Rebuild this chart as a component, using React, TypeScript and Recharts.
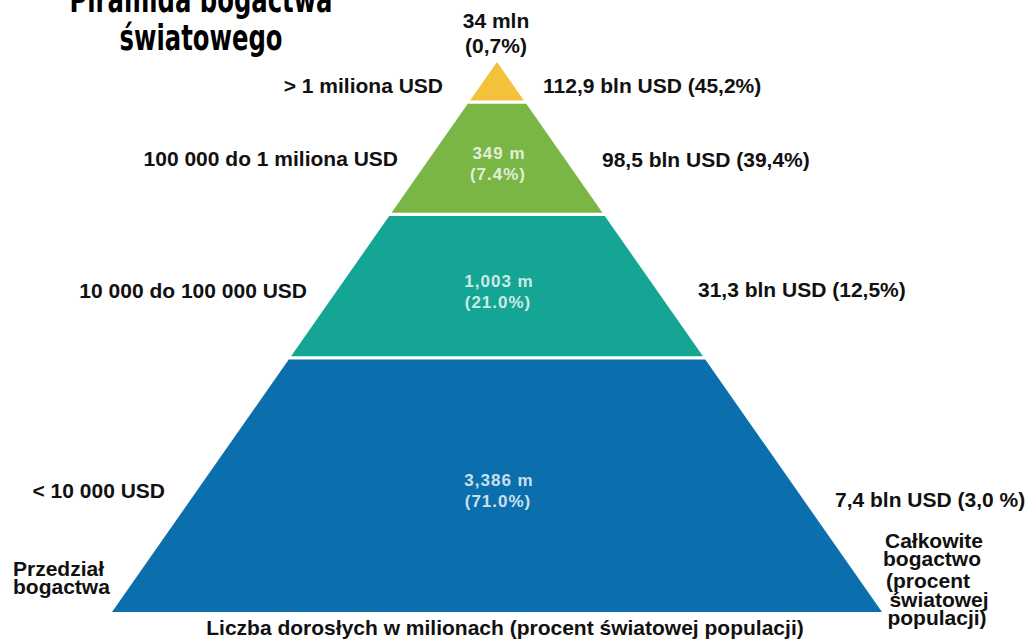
import { Area, ComposedChart, ReferenceDot, XAxis, YAxis } from "recharts";

// Wealth brackets, top of the pyramid first.
const bracketLabels = [
  "> 1 miliona USD",
  "100 000 do 1 miliona USD",
  "10 000 do 100 000 USD",
  "< 10 000 USD",
];
const adultCounts = ["34 mln", "349 m", "1,003 m", "3,386 m"];
const adultShares = ["(0,7%)", "(7.4%)", "(21.0%)", "(71.0%)"];
const wealthLabels = [
  "112,9 bln USD (45,2%)",
  "98,5 bln USD (39,4%)",
  "31,3 bln USD (12,5%)",
  "7,4 bln USD (3,0 %)",
];
// upper edge of each band, in % of the pyramid height
const bandTops = [100, 92.7, 72.3, 46.2];

const BAND_COLORS = ["#F4C23A", "#7AB646", "#14A594", "#0B6FAD"];
const GAP = 0.6; // white seam between bands, in height units
const FONT = '"Liberation Sans", Arial, sans-serif';

const bandBottoms = bandTops.map((_, i) => (i === bandTops.length - 1 ? 0 : bandTops[i + 1]));

const rows = bandTops
  .flatMap((top, i) => {
    const lo = bandBottoms[i] === 0 ? 0 : bandBottoms[i] + GAP / 2;
    const hi = top === 100 ? 100 : top - GAP / 2;
    return [
      { level: lo, band: i },
      { level: hi, band: i },
    ];
  })
  .sort((a, b) => a.level - b.level);

const halfWidth = (level: number) => 1 - level / 100;

const bandRange = (i: number) => (row: { level: number; band: number }) =>
  row.band === i ? [-halfWidth(row.level), halfWidth(row.level)] : [null, null];

function BandLabel({ cx, cy, band }: { cx?: number; cy?: number; band: number }) {
  if (cx == null || cy == null) return null;
  if (band === 0) {
    // the tip is too small, so its label sits above the apex
    return (
      <g fontFamily={FONT} fontWeight="bold" fontSize={21} fill="#111" textAnchor="middle">
        <text x={cx - 1} y={cy - 34}>{adultCounts[band]}</text>
        <text x={cx - 1} y={cy - 9}>{adultShares[band]}</text>
      </g>
    );
  }
  return (
    <g
      fontFamily={FONT}
      fontWeight="bold"
      fontSize={17}
      letterSpacing={1}
      fill="rgba(255,255,255,0.8)"
      textAnchor="middle"
    >
      <text x={cx + 2} y={cy + 1}>{adultCounts[band]}</text>
      <text x={cx + 1} y={cy + 22}>{adultShares[band]}</text>
    </g>
  );
}

// side annotations: [x, baseline y]
const LEFT_POS: [number, number][] = [
  [443, 93],
  [398, 166],
  [307, 298],
  [165, 498],
];
const RIGHT_POS: [number, number][] = [
  [543, 93],
  [602, 167],
  [698, 297],
  [835, 507],
];

export default function App() {
  return (
    <div style={{ position: "relative", width: 1028, height: 641, background: "#fff" }}>
      <style>{"body{margin:0}"}</style>
      <ComposedChart
        layout="vertical"
        width={1028}
        height={641}
        data={rows}
        margin={{ top: 62, right: 146, bottom: 29, left: 112 }}
      >
        <XAxis type="number" domain={[-1, 1]} hide />
        <YAxis type="number" dataKey="level" domain={[0, 100]} reversed hide />
        {BAND_COLORS.map((color, i) => (
          <Area
            key={i}
            dataKey={bandRange(i)}
            type="linear"
            fill={color}
            fillOpacity={1}
            stroke="none"
            connectNulls
            isAnimationActive={false}
          />
        ))}
        {bandTops.map((top, i) => (
          <ReferenceDot
            key={i}
            x={0}
            y={i === 0 ? top : (top + bandBottoms[i]) / 2}
            r={0}
            shape={(p: any) => <BandLabel cx={p.cx} cy={p.cy} band={i} />}
          />
        ))}
      </ComposedChart>
      <svg
        width={1028}
        height={641}
        style={{ position: "absolute", left: 0, top: 0, pointerEvents: "none" }}
      >
        <g
          fontFamily='"Liberation Sans Narrow", "DejaVu Sans Condensed", sans-serif'
          fontWeight="bold"
          fontSize={36}
          fill="#000"
          textAnchor="middle"
        >
          <text x={201} y={12} textLength={263} lengthAdjust="spacingAndGlyphs">
            Piramida bogactwa
          </text>
          <text x={201} y={50} textLength={163} lengthAdjust="spacingAndGlyphs">
            światowego
          </text>
        </g>
        <g fontFamily={FONT} fontWeight="bold" fontSize={21} fill="#111">
          {bracketLabels.map((label, i) => (
            <text key={label} x={LEFT_POS[i][0]} y={LEFT_POS[i][1]} textAnchor="end">
              {label}
            </text>
          ))}
          {wealthLabels.map((label, i) => (
            <text key={label} x={RIGHT_POS[i][0]} y={RIGHT_POS[i][1]}>
              {label}
            </text>
          ))}
          <text x={13} y={576}>Przedział</text>
          <text x={13} y={594}>bogactwa</text>
          <text x={934} y={548} textAnchor="middle">Całkowite</text>
          <text x={932} y={566} textAnchor="middle">bogactwo</text>
          <text x={928} y={588} textAnchor="middle">(procent</text>
          <text x={939} y={607} textAnchor="middle">światowej</text>
          <text x={937} y={625} textAnchor="middle">populacji)</text>
          <text x={505} y={635} textAnchor="middle">
            Liczba dorosłych w milionach (procent światowej populacji)
          </text>
        </g>
      </svg>
    </div>
  );
}
